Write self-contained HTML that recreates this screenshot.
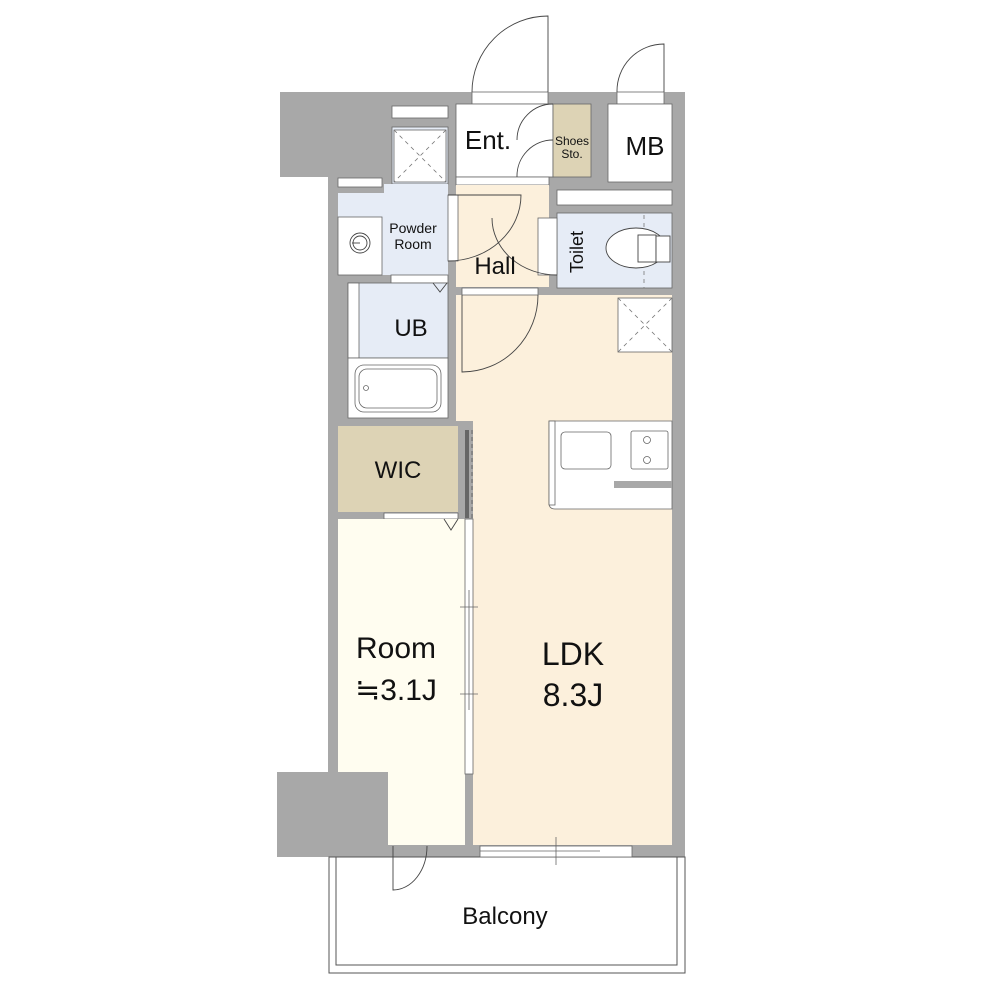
<!DOCTYPE html>
<html><head><meta charset="utf-8"><style>
html,body{margin:0;padding:0;background:#fff;width:1000px;height:1000px;overflow:hidden}
text{font-family:"Liberation Sans",sans-serif;fill:#111}
</style></head><body>
<svg width="1000" height="1000" viewBox="0 0 1000 1000" xmlns="http://www.w3.org/2000/svg">
<g fill="#a8a8a8">
<rect x="280" y="92" width="405" height="85"/>
<rect x="328" y="92" width="357" height="765"/>
<rect x="277" y="772" width="111" height="85"/>
</g>
<g stroke="#555" stroke-width="1" fill="#fff">
<rect x="329" y="857" width="356" height="116"/>
<rect x="336" y="857" width="341" height="108"/>
</g>
<g stroke="#666" stroke-width="0.8">
<rect x="392" y="106" width="56" height="12" fill="#fff"/>
<rect x="338" y="178" width="44" height="9" fill="#fff"/>
<rect x="472" y="92" width="76" height="12" fill="#fff"/>
<rect x="617" y="92" width="47" height="12" fill="#fff"/>
<rect x="456" y="104" width="97" height="73" fill="#fff"/>
<rect x="553" y="104" width="38" height="73" fill="#ddd3b5"/>
<rect x="608" y="104" width="64" height="78" fill="#fff"/>
<rect x="456" y="177" width="93" height="8" fill="#fff"/>
<rect x="456" y="185" width="93" height="102" fill="#fcf0dc" stroke="none"/>
<rect x="392" y="127" width="56" height="57" fill="#e6ecf6"/>
<rect x="394" y="130" width="52" height="52" fill="#fff"/>
<rect x="338" y="193" width="110" height="82" fill="#e6ecf6" stroke="none"/>
<rect x="384" y="184" width="64" height="10" fill="#e6ecf6" stroke="none"/>
<rect x="338" y="217" width="44" height="58" fill="#fff"/>
<rect x="391" y="275" width="57" height="8" fill="#fff"/>
<rect x="557" y="190" width="115" height="15" fill="#fff"/>
<rect x="557" y="213" width="115" height="75" fill="#e6ecf6"/>
<rect x="538" y="218" width="19" height="57" fill="#fff"/>
<rect x="448" y="195" width="10" height="66" fill="#fff"/>
<rect x="348" y="283" width="100" height="75" fill="#e6ecf6"/>
<rect x="348" y="283" width="11" height="75" fill="#fff"/>
<rect x="348" y="358" width="100" height="60" fill="#fff"/>
<rect x="355" y="365" width="86" height="47" rx="9" fill="#fff"/>
<rect x="359" y="369" width="78" height="39" rx="8" fill="#fff"/>
<circle cx="366" cy="388" r="2.5" fill="#fff"/>
</g>
<rect x="456" y="295" width="216" height="126" fill="#fcf0dc"/>
<rect x="473" y="420" width="199" height="425" fill="#fcf0dc"/>
<rect x="462" y="288" width="76" height="7" fill="#fff" stroke="#666" stroke-width="0.8"/>
<rect x="338" y="426" width="120" height="86" fill="#ddd3b5"/>
<rect x="384" y="513" width="74" height="6" fill="#fff" stroke="#666" stroke-width="0.8"/>
<rect x="338" y="519" width="127" height="253" fill="#fffdf0"/>
<rect x="388" y="772" width="77" height="73" fill="#fffdf0"/>
<rect x="465" y="430" width="4" height="88" fill="#666"/>
<line x1="472" y1="430" x2="472" y2="518" stroke="#666" stroke-dasharray="4,3"/>
<g stroke="#666" stroke-width="0.8" fill="#fff">
<rect x="465" y="519" width="8" height="255"/>
<line x1="469" y1="590" x2="469" y2="710"/>
<line x1="460" y1="607" x2="478" y2="607"/>
<line x1="460" y1="694" x2="478" y2="694"/>
<rect x="480" y="846" width="152" height="11"/>
<line x1="480" y1="851" x2="600" y2="851"/>
<line x1="556" y1="837" x2="556" y2="865"/>
<path d="M549 421 H672 V509 H555 Q549 509 549 503 Z"/>
<rect x="549" y="421" width="6" height="84"/>
<rect x="561" y="432" width="50" height="37" rx="4"/>
<rect x="631" y="431" width="37" height="38" rx="2"/>
<circle cx="647" cy="440" r="3.5"/><circle cx="647" cy="460" r="3.5"/>
<rect x="618" y="298" width="54" height="54"/>
</g>
<rect x="614" y="481" width="58" height="7" fill="#a8a8a8"/>
<g stroke="#777" stroke-width="0.8" stroke-dasharray="4,4" fill="none">
<line x1="394" y1="130" x2="446" y2="182"/><line x1="446" y1="130" x2="394" y2="182"/>
<line x1="618" y1="298" x2="672" y2="352"/><line x1="672" y1="298" x2="618" y2="352"/>
<line x1="644" y1="215" x2="644" y2="288"/>
</g>
<g stroke="#444" stroke-width="0.9" fill="none">
<path d="M548 92 V16 A76 76 0 0 0 472 92"/>
<path d="M664 92 V44 A47 47 0 0 0 617 92"/>
<path d="M553 104 A36 36 0 0 0 517 140 M553 140 A36 36 0 0 0 517 177"/>
<path d="M448 195 H521 A73 66 0 0 1 448 261"/>
<path d="M492 218 A65 57 0 0 0 557 275"/>
<path d="M462 295 V372 A76 77 0 0 0 538 295"/>
<path d="M393 846 V890 A34 44 0 0 0 427 846"/>
<path d="M433 283 L440 292 L447 283"/>
<path d="M444 519 L451 530 L458 519"/>
<circle cx="360" cy="243" r="10"/><circle cx="360" cy="243" r="7"/>
<line x1="352" y1="243" x2="360" y2="243"/>
<ellipse cx="636" cy="248" rx="30" ry="20" fill="#fff"/>
<rect x="638" y="235" width="18" height="27" fill="#fff"/>
<rect x="656" y="236" width="14" height="26" fill="#fff"/>
</g>
<text x="488" y="149" font-size="26" text-anchor="middle">Ent.</text>
<text x="572" y="145" font-size="12" text-anchor="middle">Shoes</text>
<text x="572" y="158" font-size="12" text-anchor="middle">Sto.</text>
<text x="645" y="155" font-size="26" text-anchor="middle">MB</text>
<text x="413" y="233" font-size="14" text-anchor="middle">Powder</text>
<text x="413" y="249" font-size="14" text-anchor="middle">Room</text>
<text x="495" y="274" font-size="24" text-anchor="middle">Hall</text>
<text x="0" y="0" font-size="18" text-anchor="middle" transform="translate(583,252) rotate(-90)">Toilet</text>
<text x="411" y="336" font-size="24" text-anchor="middle">UB</text>
<text x="398" y="478" font-size="24" text-anchor="middle">WIC</text>
<text x="396" y="658" font-size="30" text-anchor="middle">Room</text>
<text x="396" y="700" font-size="30" text-anchor="middle">≒3.1J</text>
<text x="573" y="665" font-size="32" text-anchor="middle">LDK</text>
<text x="573" y="706" font-size="32" text-anchor="middle">8.3J</text>
<text x="505" y="924" font-size="24" text-anchor="middle">Balcony</text>
</svg>
</body></html>
